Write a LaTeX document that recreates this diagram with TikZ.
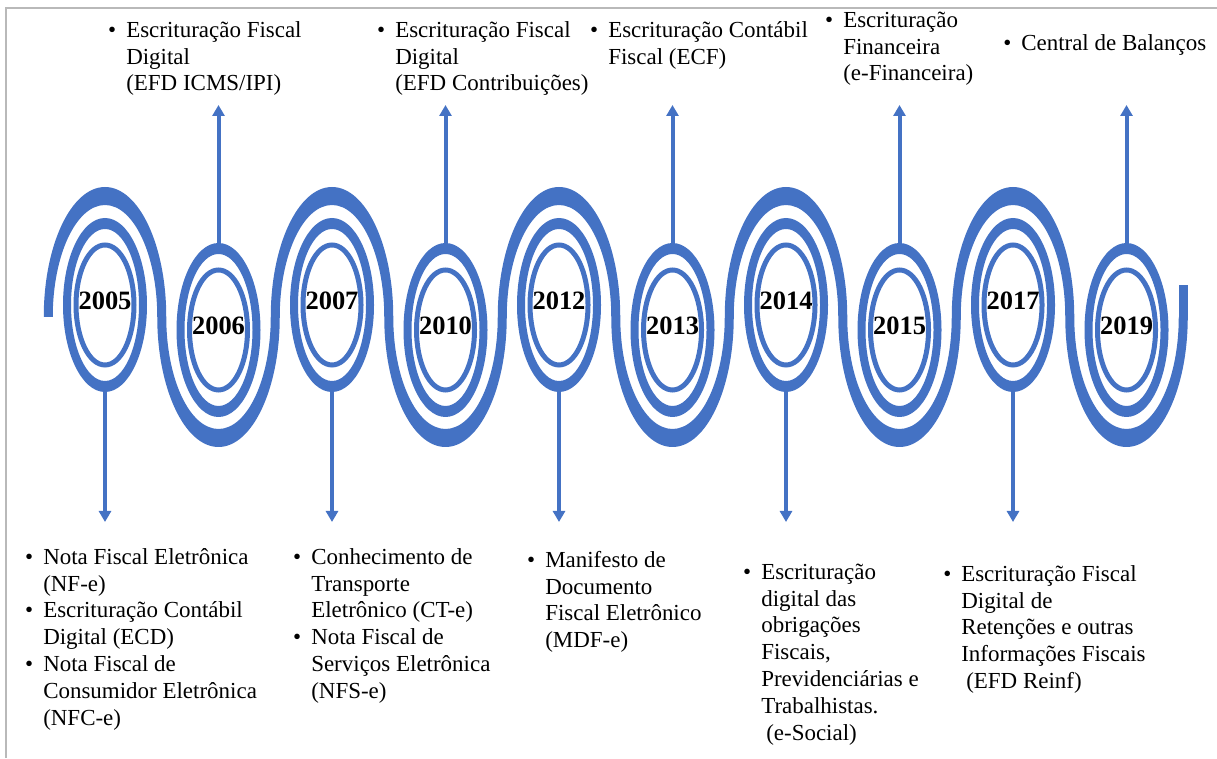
\documentclass[tikz,border=0pt]{standalone}
\usepackage{fontspec}
\setmainfont{Liberation Serif}
\usetikzlibrary{arrows.meta}
\definecolor{tlblue}{HTML}{4472C4}

\tikzset{
  band/.style={fill=tlblue},
  ring/.style={fill=tlblue, even odd rule},
  thinring/.style={draw=tlblue, line width=0.15cm},
  link/.style={draw=tlblue, line width=0.12cm, -{Triangle[length=0.33cm, width=0.36cm]}},
  year/.style={font=\fontsize{22.6}{24}\selectfont\bfseries},
  note/.style={font=\fontsize{19.6}{23}\selectfont, inner sep=0pt, anchor=north west},
}
\newcommand{\bl}{\textbullet}

\begin{document}
\begin{tikzpicture}[x=0.03cm, y=0.03cm]
  \useasboundingbox (0,0) rectangle (1217,758);
  \draw[gray!55, line width=0.07cm] (6,0) -- (6,750) -- (1217,750);
  \def\ymid{441}  % middle line of the wave
  \def\dx{113.5}  % distance between two loops
  \foreach \yr [count=\i from 0] in {2005,2006,2007,2010,2012,2013,2014,2015,2017,2019} {
    \pgfmathsetmacro{\cx}{105+\dx*\i}
    \pgfmathsetmacro{\s}{ifthenelse(mod(\i,2)==0,1,-1)}
    \pgfmathsetmacro{\ea}{180-180*\s}
    \pgfmathsetmacro{\cy}{440.5+12.5*\s}
    \pgfmathsetmacro{\ty}{444.5-208.5*\s}
    \coordinate (r\i) at (\cx,\cy-87*\s);
    \coordinate (a\i) at (\cx,\ty);
    \draw[link] (r\i) -- (a\i);
    \fill[band] (\cx-61.25,\ymid) arc[start angle=180, end angle=\ea, x radius=61.25, y radius=130]
      -- (\cx+52.25,\ymid) arc[start angle=\ea, end angle=180, x radius=52.25, y radius=112] -- cycle;
    \fill[ring] (\cx,\cy) ellipse[x radius=42, y radius=87] (\cx,\cy) ellipse[x radius=34, y radius=76];
    \draw[thinring] (\cx,\cy) ellipse[x radius=29, y radius=60];
    \node[year] (y\i) at (\cx,\cy+4) {\yr};
  }
  \fill[band] (1178.75,\ymid) rectangle (1187.75,473);

  % top notes
  \node[note] (n2006) at (108,740) {\begin{tabular}{@{}l@{\hspace{0.3cm}}l@{}}
    \bl & Escrituração Fiscal\\ & Digital\\ & (EFD ICMS/IPI)\end{tabular}};
  \node[note] (n2010) at (377,740) {\begin{tabular}{@{}l@{\hspace{0.3cm}}l@{}}
    \bl & Escrituração Fiscal\\ & Digital\\ & (EFD Contribuições)\end{tabular}};
  \node[note] (n2013) at (590,740) {\begin{tabular}{@{}l@{\hspace{0.3cm}}l@{}}
    \bl & Escrituração Contábil\\ & Fiscal (ECF)\end{tabular}};
  \node[note] (n2015) at (825,750) {\begin{tabular}{@{}l@{\hspace{0.3cm}}l@{}}
    \bl & Escrituração\\ & Financeira\\ & (e-Financeira)\end{tabular}};
  \node[note] (n2019) at (1003,727) {\begin{tabular}{@{}l@{\hspace{0.3cm}}l@{}}
    \bl & Central de Balanços\end{tabular}};

  % bottom notes
  \node[note] (n2005) at (25,213) {\begin{tabular}{@{}l@{\hspace{0.3cm}}l@{}}
    \bl & Nota Fiscal Eletrônica\\ & (NF-e)\\
    \bl & Escrituração Contábil\\ & Digital (ECD)\\
    \bl & Nota Fiscal de\\ & Consumidor Eletrônica\\ & (NFC-e)\end{tabular}};
  \node[note] (n2007) at (293,213) {\begin{tabular}{@{}l@{\hspace{0.3cm}}l@{}}
    \bl & Conhecimento de\\ & Transporte\\ & Eletrônico (CT-e)\\
    \bl & Nota Fiscal de\\ & Serviços Eletrônica\\ & (NFS-e)\end{tabular}};
  \node[note] (n2012) at (527,210) {\begin{tabular}{@{}l@{\hspace{0.3cm}}l@{}}
    \bl & Manifesto de\\ & Documento\\ & Fiscal Eletrônico\\ & (MDF-e)\end{tabular}};
  \node[note] (n2014) at (743,198) {\begin{tabular}{@{}l@{\hspace{0.3cm}}l@{}}
    \bl & Escrituração\\ & digital das\\ & obrigações\\ & Fiscais,\\
      & Previdenciárias e\\ & Trabalhistas.\\ & \hspace{0.15cm}(e-Social)\end{tabular}};
  \node[note] (n2017) at (943,196) {\begin{tabular}{@{}l@{\hspace{0.3cm}}l@{}}
    \bl & Escrituração Fiscal\\ & Digital de\\ & Retenções e outras\\
      & Informações Fiscais\\ & \hspace{0.15cm}(EFD Reinf)\end{tabular}};
\end{tikzpicture}
\end{document}
